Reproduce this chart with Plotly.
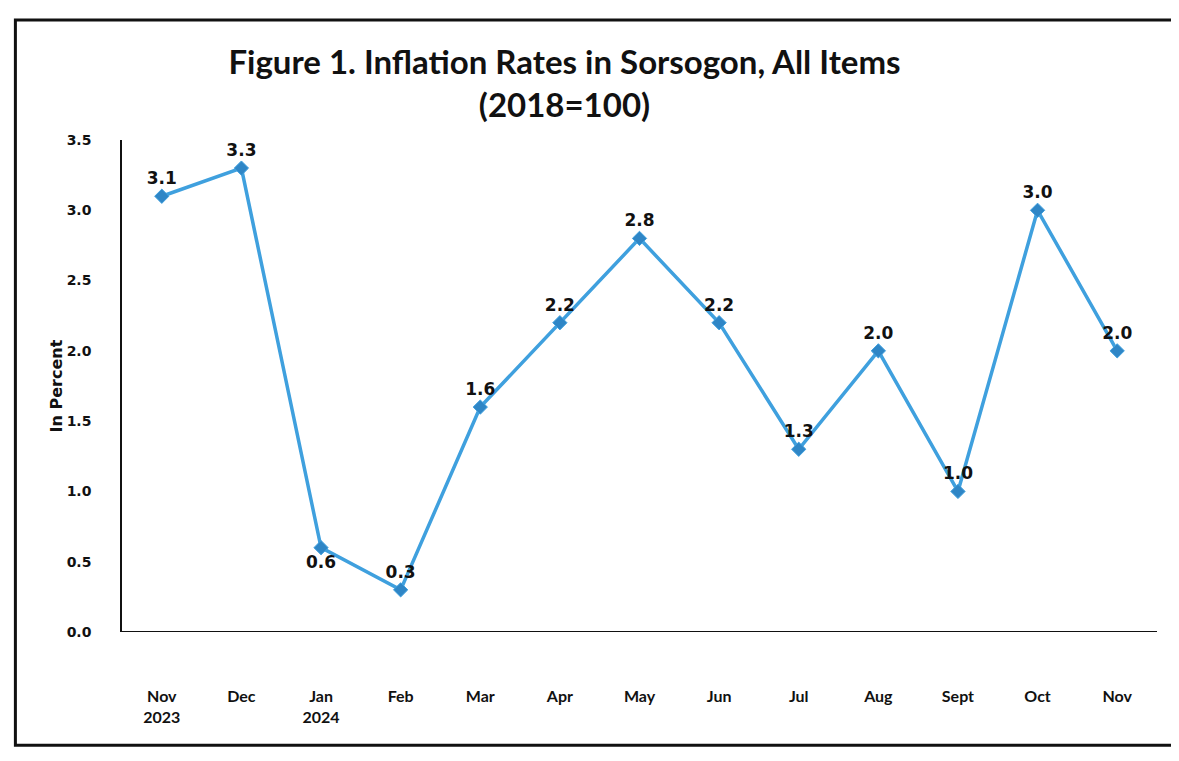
import plotly.graph_objects as go

months = ["Nov<br>2023", "Dec", "Jan<br>2024", "Feb", "Mar", "Apr", "May", "Jun", "Jul", "Aug", "Sept", "Oct", "Nov"]
inflation = [3.1, 3.3, 0.6, 0.3, 1.6, 2.2, 2.8, 2.2, 1.3, 2.0, 1.0, 3.0, 2.0]
label_pos = ["top center", "top center", "bottom center", "top center", "top center", "top center", "top center",
             "top center", "top center", "top center", "top center", "top center", "top center"]
y_ticks = [0.0, 0.5, 1.0, 1.5, 2.0, 2.5, 3.0, 3.5]

x_idx = list(range(len(months)))

fig = go.Figure()
fig.add_trace(go.Scatter(
    x=x_idx, y=inflation,
    mode="lines+markers+text",
    line=dict(color="#3FA0DE", width=3.5),
    marker=dict(symbol="diamond", size=11, color="#2F86C6", line=dict(color="#3FA0DE", width=1)),
    text=[f"{v:.1f}" for v in inflation],
    textposition=label_pos,
    textfont=dict(family="DejaVu Sans", size=17, color="#111111", weight="bold"),
    cliponaxis=False,
    showlegend=False,
))

fig.update_layout(
    width=1179, height=761,
    paper_bgcolor="white", plot_bgcolor="white",
    margin=dict(l=114, r=30, t=132, b=137),
    title=dict(
        text="Figure 1. Inflation Rates in Sorsogon, All Items<br>(2018=100)",
        x=0.472, xanchor="center", y=0.913, yanchor="top",
        font=dict(family="Lato", size=33, color="#111111", weight="bold"),
    ),
    xaxis=dict(
        range=[-0.5, 12.5], tickmode="array", tickvals=x_idx, ticktext=months,
        showgrid=False, zeroline=False, showline=False,
        tickfont=dict(family="Lato", size=16, color="#111111", weight="bold"),
        ticklabelstandoff=53, ticks="",
    ),
    yaxis=dict(
        range=[0, 3.5], tickmode="array", tickvals=y_ticks,
        ticktext=[f"{v:.1f}" for v in y_ticks],
        showgrid=False, zeroline=False, showline=True, linecolor="#111111", linewidth=1.5,
        tickfont=dict(family="DejaVu Sans", size=14, color="#111111", weight="bold"),
        ticks="", ticklabelstandoff=26,
        title=dict(text="In Percent", standoff=0,
                   font=dict(family="DejaVu Sans", size=16, color="#111111", weight="bold")),
    ),
    shapes=[
        dict(type="line", xref="paper", yref="y", x0=0, x1=1.0, y0=0, y1=0,
             line=dict(color="#111111", width=2)),
        dict(type="rect", xref="paper", yref="paper", x0=-0.103, x1=1.05, y0=-0.23, y1=1.244,
             line=dict(color="#111111", width=3), layer="below"),
    ],
)

fig.write_html("out.html")
